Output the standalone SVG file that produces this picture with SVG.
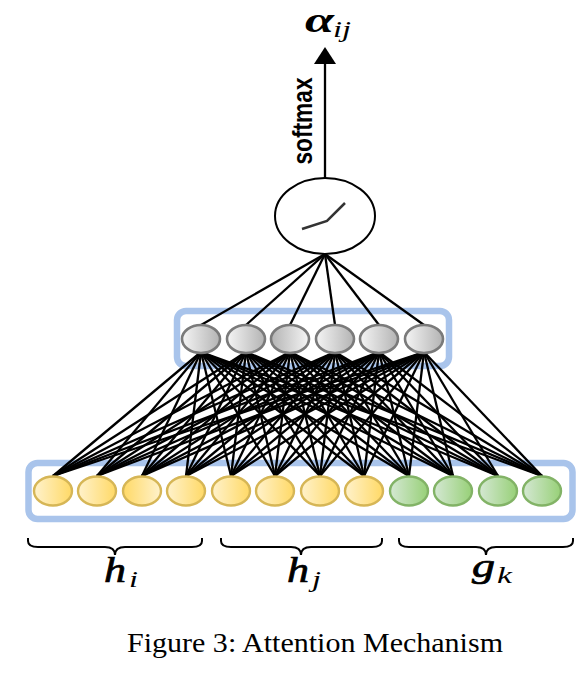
<svg xmlns="http://www.w3.org/2000/svg" width="585" height="688" viewBox="0 0 585 688">
<style>
.box{fill:#fff;stroke:#a9c4eb;stroke-width:6.5}
.c line{stroke:#000;stroke-width:2.3}
.n{stroke-width:2.4}
.g{stroke:#7a7a7a;stroke-width:2.6}
.y{stroke:#d6b656}
.v{stroke:#82b366}
.brace{fill:none;stroke:#000;stroke-width:2}
.m{font-family:"Liberation Serif",serif;font-style:italic;fill:#000;stroke:#000;stroke-width:.7}
.a{font-family:"Liberation Serif",serif;font-style:italic;font-weight:bold;fill:#000}
.s{font-family:"Liberation Serif",serif;font-style:italic;fill:#000}
</style>
<defs>
<linearGradient id="gr"><stop offset="0" stop-color="#f5f5f5"/><stop offset="1" stop-color="#b3b3b3"/></linearGradient>
<linearGradient id="gl"><stop offset="0" stop-color="#b3b3b3"/><stop offset="1" stop-color="#f5f5f5"/></linearGradient>
<linearGradient id="yr"><stop offset="0" stop-color="#fff2cc"/><stop offset="1" stop-color="#ffd966"/></linearGradient>
<linearGradient id="yl"><stop offset="0" stop-color="#ffd966"/><stop offset="1" stop-color="#fff2cc"/></linearGradient>
<linearGradient id="vr"><stop offset="0" stop-color="#d5e8d4"/><stop offset="1" stop-color="#97d077"/></linearGradient>
</defs>
<rect width="585" height="688" fill="#fff"/>
<rect id="box-top" class="box" x="177" y="311" width="272" height="55" rx="9"/>
<rect id="box-bottom" class="box" x="28.500" y="463" width="544" height="56" rx="9"/>
<g id="connectors" class="c">
<line x1="325" y1="178" x2="325" y2="62"/>
<path d="M325 47L336 64H314Z" fill="#000"/>
<line x1="325" y1="254" x2="201" y2="325"/><line x1="325" y1="254" x2="246" y2="325"/><line x1="325" y1="254" x2="290" y2="325"/><line x1="325" y1="254" x2="335" y2="325"/><line x1="325" y1="254" x2="379" y2="325"/><line x1="325" y1="254" x2="424" y2="325"/>
<line x1="201" y1="352" x2="53" y2="476"/><line x1="201" y1="352" x2="97" y2="476"/><line x1="201" y1="352" x2="142" y2="476"/><line x1="201" y1="352" x2="186" y2="476"/><line x1="201" y1="352" x2="231" y2="476"/><line x1="201" y1="352" x2="275" y2="476"/><line x1="201" y1="352" x2="320" y2="476"/><line x1="201" y1="352" x2="364" y2="476"/><line x1="201" y1="352" x2="409" y2="476"/><line x1="201" y1="352" x2="453" y2="476"/><line x1="201" y1="352" x2="498" y2="476"/><line x1="201" y1="352" x2="542" y2="476"/>
<line x1="246" y1="352" x2="53" y2="476"/><line x1="246" y1="352" x2="97" y2="476"/><line x1="246" y1="352" x2="142" y2="476"/><line x1="246" y1="352" x2="186" y2="476"/><line x1="246" y1="352" x2="231" y2="476"/><line x1="246" y1="352" x2="275" y2="476"/><line x1="246" y1="352" x2="320" y2="476"/><line x1="246" y1="352" x2="364" y2="476"/><line x1="246" y1="352" x2="409" y2="476"/><line x1="246" y1="352" x2="453" y2="476"/><line x1="246" y1="352" x2="498" y2="476"/><line x1="246" y1="352" x2="542" y2="476"/>
<line x1="290" y1="352" x2="53" y2="476"/><line x1="290" y1="352" x2="97" y2="476"/><line x1="290" y1="352" x2="142" y2="476"/><line x1="290" y1="352" x2="186" y2="476"/><line x1="290" y1="352" x2="231" y2="476"/><line x1="290" y1="352" x2="275" y2="476"/><line x1="290" y1="352" x2="320" y2="476"/><line x1="290" y1="352" x2="364" y2="476"/><line x1="290" y1="352" x2="409" y2="476"/><line x1="290" y1="352" x2="453" y2="476"/><line x1="290" y1="352" x2="498" y2="476"/><line x1="290" y1="352" x2="542" y2="476"/>
<line x1="335" y1="352" x2="53" y2="476"/><line x1="335" y1="352" x2="97" y2="476"/><line x1="335" y1="352" x2="142" y2="476"/><line x1="335" y1="352" x2="186" y2="476"/><line x1="335" y1="352" x2="231" y2="476"/><line x1="335" y1="352" x2="275" y2="476"/><line x1="335" y1="352" x2="320" y2="476"/><line x1="335" y1="352" x2="364" y2="476"/><line x1="335" y1="352" x2="409" y2="476"/><line x1="335" y1="352" x2="453" y2="476"/><line x1="335" y1="352" x2="498" y2="476"/><line x1="335" y1="352" x2="542" y2="476"/>
<line x1="379" y1="352" x2="53" y2="476"/><line x1="379" y1="352" x2="97" y2="476"/><line x1="379" y1="352" x2="142" y2="476"/><line x1="379" y1="352" x2="186" y2="476"/><line x1="379" y1="352" x2="231" y2="476"/><line x1="379" y1="352" x2="275" y2="476"/><line x1="379" y1="352" x2="320" y2="476"/><line x1="379" y1="352" x2="364" y2="476"/><line x1="379" y1="352" x2="409" y2="476"/><line x1="379" y1="352" x2="453" y2="476"/><line x1="379" y1="352" x2="498" y2="476"/><line x1="379" y1="352" x2="542" y2="476"/>
<line x1="424" y1="352" x2="53" y2="476"/><line x1="424" y1="352" x2="97" y2="476"/><line x1="424" y1="352" x2="142" y2="476"/><line x1="424" y1="352" x2="186" y2="476"/><line x1="424" y1="352" x2="231" y2="476"/><line x1="424" y1="352" x2="275" y2="476"/><line x1="424" y1="352" x2="320" y2="476"/><line x1="424" y1="352" x2="364" y2="476"/><line x1="424" y1="352" x2="409" y2="476"/><line x1="424" y1="352" x2="453" y2="476"/><line x1="424" y1="352" x2="498" y2="476"/><line x1="424" y1="352" x2="542" y2="476"/>
</g>
<g id="activation"><ellipse cx="325" cy="216" rx="50" ry="38" fill="#fff" stroke="#000" stroke-width="2"/><path d="M302 229L327 221L345 203" fill="none" stroke="#333" stroke-width="2.500"/></g>
<g id="t1"><ellipse class="g" cx="201" cy="339" rx="19" ry="14" fill="url(#gr)"/></g>
<g id="t2"><ellipse class="g" cx="246" cy="339" rx="19" ry="14" fill="url(#gr)"/></g>
<g id="t3"><ellipse class="g" cx="290" cy="339" rx="19" ry="14" fill="url(#gl)"/></g>
<g id="t4"><ellipse class="g" cx="335" cy="339" rx="19" ry="14" fill="url(#gr)"/></g>
<g id="t5"><ellipse class="g" cx="379" cy="339" rx="19" ry="14" fill="url(#gr)"/></g>
<g id="t6"><ellipse class="g" cx="424" cy="339" rx="19" ry="14" fill="url(#gr)"/></g>
<g id="b1"><ellipse class="n y" cx="53" cy="491" rx="19" ry="14.500" fill="url(#yr)"/></g>
<g id="b2"><ellipse class="n y" cx="97" cy="491" rx="19" ry="14.500" fill="url(#yr)"/></g>
<g id="b3"><ellipse class="n y" cx="142" cy="491" rx="19" ry="14.500" fill="url(#yl)"/></g>
<g id="b4"><ellipse class="n y" cx="186" cy="491" rx="19" ry="14.500" fill="url(#yr)"/></g>
<g id="b5"><ellipse class="n y" cx="231" cy="491" rx="19" ry="14.500" fill="url(#yr)"/></g>
<g id="b6"><ellipse class="n y" cx="275" cy="491" rx="19" ry="14.500" fill="url(#yr)"/></g>
<g id="b7"><ellipse class="n y" cx="320" cy="491" rx="19" ry="14.500" fill="url(#yr)"/></g>
<g id="b8"><ellipse class="n y" cx="364" cy="491" rx="19" ry="14.500" fill="url(#yr)"/></g>
<g id="b9"><ellipse class="n v" cx="409" cy="491" rx="19" ry="14.500" fill="url(#vr)"/></g>
<g id="b10"><ellipse class="n v" cx="453" cy="491" rx="19" ry="14.500" fill="url(#vr)"/></g>
<g id="b11"><ellipse class="n v" cx="498" cy="491" rx="19" ry="14.500" fill="url(#vr)"/></g>
<g id="b12"><ellipse class="n v" cx="542" cy="491" rx="19" ry="14.500" fill="url(#vr)"/></g>
<g id="braces">
<path class="brace" d="M28 538V541Q28 547 38 547H105Q115 547 115 555Q115 547 125 547H192Q202 547 202 541V538"/>
<path class="brace" d="M221 538V541Q221 547 231 547H291Q301 547 301 555Q301 547 311 547H372Q382 547 382 541V538"/>
<path class="brace" d="M399 538V541Q399 547 409 547H476Q486 547 486 555Q486 547 496 547H563Q573 547 573 541V538"/>
</g>
<g id="labels">
<text class="a" x="305" y="32" font-size="36" textLength="29" lengthAdjust="spacingAndGlyphs">α</text>
<text class="s" x="333" y="37" font-size="23" textLength="18" lengthAdjust="spacingAndGlyphs">ij</text>
<text class="m" x="104" y="582" font-size="35" textLength="22" lengthAdjust="spacingAndGlyphs">h</text>
<text class="s" x="129" y="587" font-size="24" textLength="9" lengthAdjust="spacingAndGlyphs">i</text>
<text class="m" x="287" y="582" font-size="35" textLength="22" lengthAdjust="spacingAndGlyphs">h</text>
<text class="s" x="312" y="587" font-size="24" textLength="9" lengthAdjust="spacingAndGlyphs">j</text>
<text class="m" x="472" y="577" font-size="33" textLength="23" lengthAdjust="spacingAndGlyphs">g</text>
<text class="s" x="497" y="583" font-size="24" textLength="15" lengthAdjust="spacingAndGlyphs">k</text>
<text transform="translate(311.500 164.500) rotate(-90)" font-family="'Liberation Sans',Arial,sans-serif" font-weight="bold" font-size="27" textLength="87" lengthAdjust="spacingAndGlyphs">softmax</text>
<text x="127" y="652" font-family="'Liberation Serif','Times New Roman',serif" font-size="27.500" textLength="376" lengthAdjust="spacingAndGlyphs">Figure 3: Attention Mechanism</text>
</g>
</svg>
